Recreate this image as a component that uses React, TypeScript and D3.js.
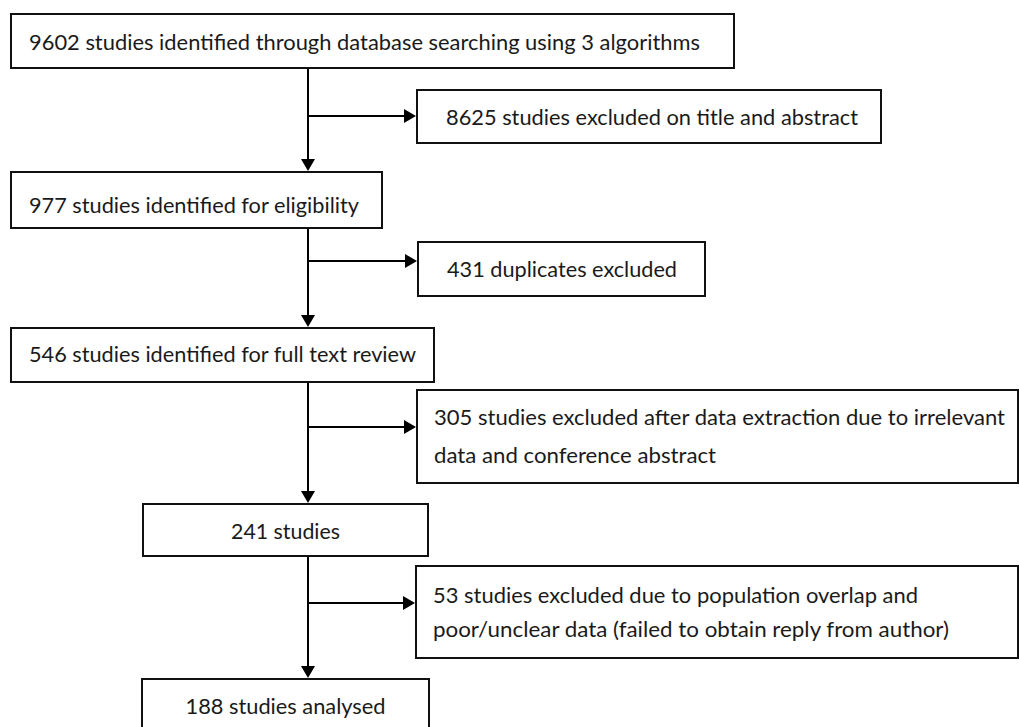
import React, { useRef, useEffect } from "react";
import * as d3 from "d3";

// flow data
const stageCounts = [9602, 977, 546, 241, 188];
const stageLabels = [
  "studies identified through database searching using 3 algorithms",
  "studies identified for eligibility",
  "studies identified for full text review",
  "studies",
  "studies analysed",
];
const excludedCounts = [8625, 431, 305, 53];
const excludedLabels = [
  ["studies excluded on title and abstract"],
  ["duplicates excluded"],
  ["studies excluded after data extraction due to irrelevant", "data and conference abstract"],
  ["studies excluded due to population overlap and", "poor/unclear data (failed to obtain reply from author)"],
];

// layout (pixels)
const W = 1019;
const H = 727;
const spineX = 308;
const mainBoxes = [
  { x0: 11, x1: 734, y0: 14, y1: 68, tx: 29, center: false, base: [50], tw: [671] },
  { x0: 11, x1: 382, y0: 172, y1: 228, tx: 29, center: false, base: [213], tw: [330] },
  { x0: 11, x1: 434, y0: 328, y1: 382, tx: 29, center: false, base: [362], tw: [387] },
  { x0: 143, x1: 428, y0: 504, y1: 556, tx: 0, center: true, base: [539], tw: [109] },
  { x0: 142, x1: 429, y0: 679, y1: 745, tx: 0, center: true, base: [714], tw: [200] },
];
const sideBoxes = [
  { x0: 417, x1: 881, y0: 90, y1: 143, tx: 446, base: [125], tw: [412], branchY: 116 },
  { x0: 418, x1: 705, y0: 242, y1: 296, tx: 447, base: [277], tw: [230], branchY: 261 },
  { x0: 417, x1: 1018, y0: 390, y1: 483, tx: 434, base: [425, 463], tw: [571, 282], branchY: 427 },
  { x0: 416, x1: 1018, y0: 566, y1: 658, tx: 433, base: [603, 637], tw: [485, 516], branchY: 603 },
];

const FONT = "Lato, 'Open Sans', sans-serif";
const HEAD_L = 13;
const HEAD_W = 7;

function App() {
  const svgRef = useRef(null);

  function renderFlow() {
    const svg = d3.select(svgRef.current);
    svg.selectAll("*").remove();

    const line = d3.line();

    const mainData = stageCounts.map((c, i) => ({
      ...mainBoxes[i],
      lines: [c + " " + stageLabels[i]],
    }));
    const sideData = excludedCounts.map((c, i) => ({
      ...sideBoxes[i],
      lines: excludedLabels[i].map((t, j) => (j === 0 ? c + " " + t : t)),
    }));

    // connectors
    const links = svg.append("g");
    for (let i = 0; i < mainData.length - 1; i++) {
      const from = mainData[i];
      const to = mainData[i + 1];
      const side = sideData[i];
      links
        .append("path")
        .attr("d", line([[spineX, from.y1], [spineX, to.y0 - HEAD_L + 1]]))
        .attr("stroke", "#000")
        .attr("stroke-width", 2)
        .attr("fill", "none");
      links
        .append("path")
        .attr(
          "d",
          line([[spineX - HEAD_W, to.y0 - HEAD_L], [spineX + HEAD_W, to.y0 - HEAD_L], [spineX, to.y0 - 1]]) + "Z"
        )
        .attr("fill", "#000");
      links
        .append("path")
        .attr("d", line([[spineX, side.branchY], [side.x0 - HEAD_L + 1, side.branchY]]))
        .attr("stroke", "#000")
        .attr("stroke-width", 2)
        .attr("fill", "none");
      links
        .append("path")
        .attr(
          "d",
          line([[side.x0 - HEAD_L, side.branchY - HEAD_W], [side.x0 - HEAD_L, side.branchY + HEAD_W], [side.x0 - 1, side.branchY]]) + "Z"
        )
        .attr("fill", "#000");
    }

    const drawBoxes = (data, cls) => {
      const g = svg
        .selectAll("g." + cls)
        .data(data)
        .join("g")
        .attr("class", cls);
      g.append("rect")
        .attr("x", (d) => d.x0)
        .attr("y", (d) => d.y0)
        .attr("width", (d) => d.x1 - d.x0)
        .attr("height", (d) => d.y1 - d.y0)
        .attr("fill", "#fff")
        .attr("stroke", "#111")
        .attr("stroke-width", 2);
      g.each(function (d) {
        const node = d3.select(this);
        d.lines.forEach((t, j) => {
          node
            .append("text")
            .attr("x", d.center ? (d.x0 + d.x1) / 2 : d.tx)
            .attr("y", d.base[j])
            .attr("text-anchor", d.center ? "middle" : "start")
            .attr("font-family", FONT)
            .attr("font-size", 21)
            .attr("fill", "#1a1a1a")
            .attr("textLength", d.tw[j])
            .attr("lengthAdjust", "spacingAndGlyphs")
            .text(t);
        });
      });
    };

    drawBoxes(mainData, "main");
    drawBoxes(sideData, "side");
  }

  useEffect(() => {
    renderFlow();
  }, []);

  return (
    <svg
      ref={svgRef}
      width={W}
      height={H}
      style={{ position: "absolute", left: 0, top: 0, background: "#fff" }}
    />
  );
}

export default App;
